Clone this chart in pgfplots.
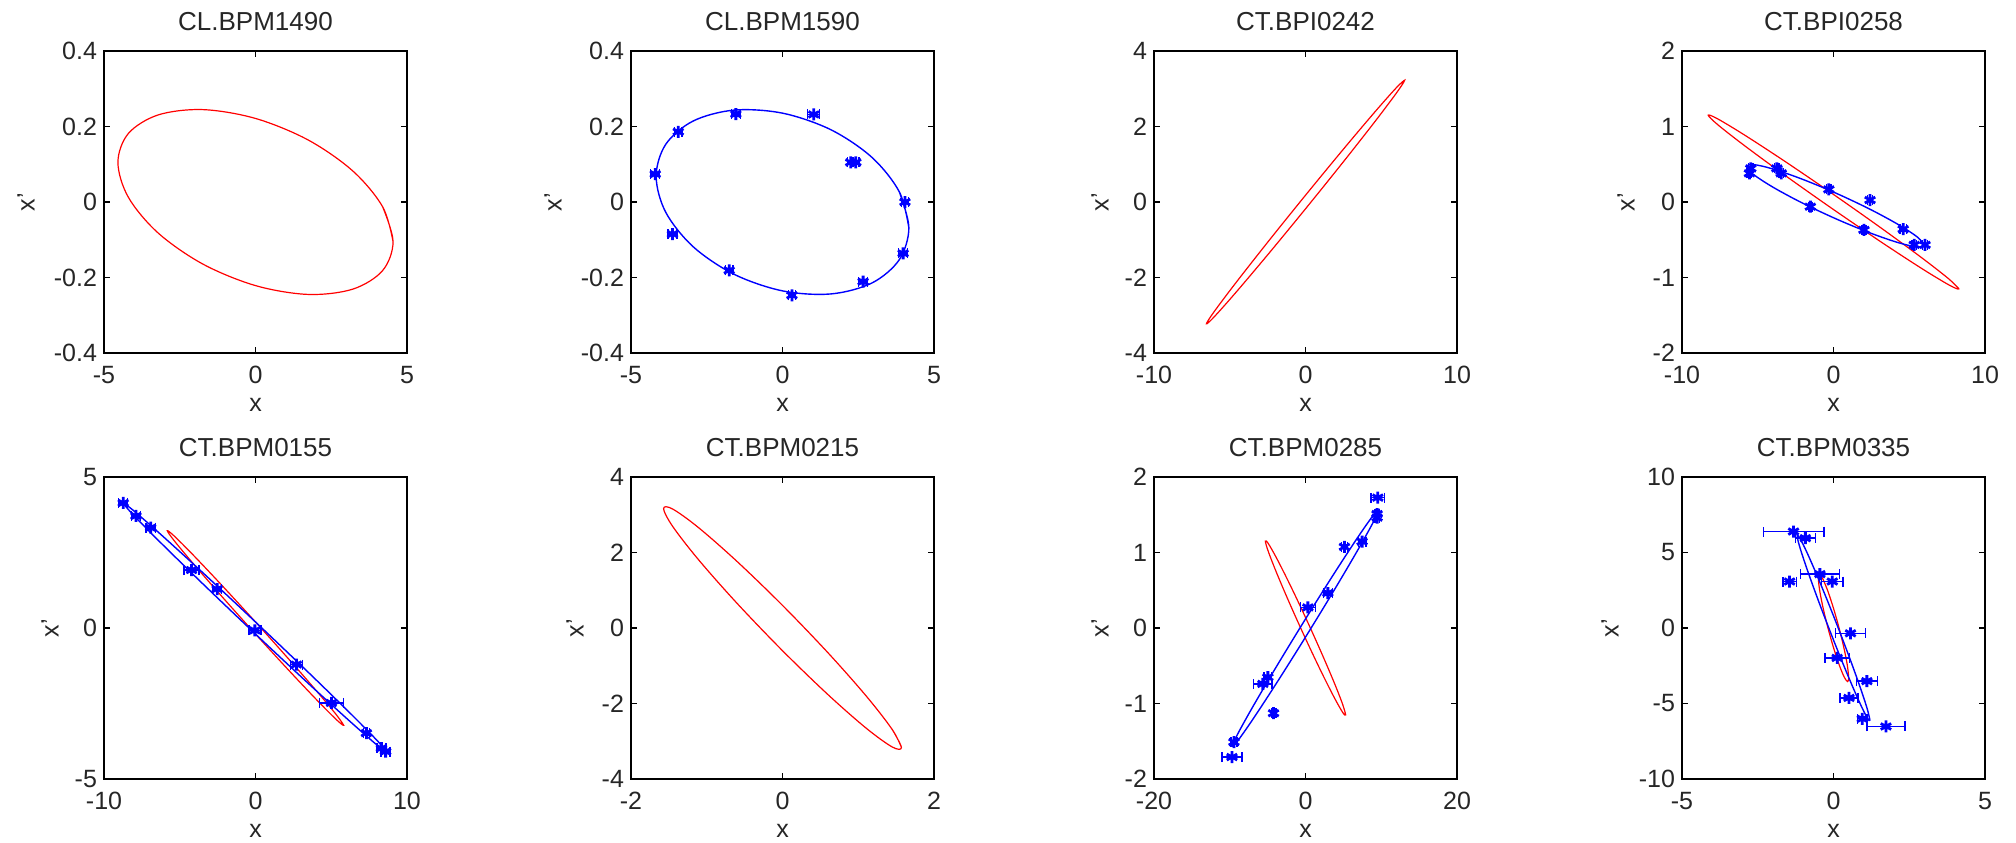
\documentclass[border=0pt]{standalone}
\usepackage{pgfplots}
\pgfplotsset{compat=1.18}
\usepackage{fontspec}
\setmainfont{Liberation Sans}
\definecolor{mblue}{rgb}{0,0,1}
\definecolor{mred}{rgb}{1,0,0}
\pgfplotsset{
  bpm/.style={
    scale only axis, width=151.5pt, height=151pt,
    axis line style={line width=0.7pt, black},
    tick style={line width=0.6pt, black},
    tick align=inside, major tick length=3pt,
    every tick label/.append style={font=\fontsize{12.5}{13}\selectfont, text=black!85},
    xticklabel style={yshift=-3pt},
    title style={font=\fontsize{13}{14}\selectfont, text=black!85, at={(0.5,1)}, anchor=base, yshift=4.5pt},
    xlabel={x}, ylabel={x'},
    xlabel style={font=\fontsize{12.5}{13}\selectfont, text=black!85, at={(0.5,0)}, anchor=base, yshift=-29pt},
    ylabel style={font=\fontsize{12.5}{13}\selectfont, text=black!85, at={(0,0.5)}, anchor=center},
    clip=false,
  },
  redell/.style={mred, line width=0.6pt, smooth, tension=0.55, mark=none},
  blueell/.style={mblue, line width=0.7pt, smooth, tension=0.55, mark=none},
  bluepts/.style={mblue, only marks, mark=asterisk, mark size=3pt, mark options={line width=1.4pt},
    error bars/.cd, x dir=both, x explicit,
    error bar style={line width=0.7pt, mblue},
    error mark options={rotate=90, mblue, mark size=2.5pt, line width=0.7pt}},
}
\begin{document}
\begin{tikzpicture}
% ---------- Row 1 ----------
\begin{axis}[bpm, at={(52pt,-176.5pt)}, anchor=south west,
  title={CL.BPM1490},
  xmin=-5, xmax=5, ymin=-0.4, ymax=0.4,
  xtick={-5,0,5}, xticklabels={-5,0,5},
  ytick={-0.4,-0.2,0,0.2,0.4}, yticklabels={-0.4,-0.2,0,0.2,0.4},
  ylabel style={yshift=39pt}]
\addplot[redell] coordinates {(4.54,-0.105) (4.194,-0.0123) (3.210,0.0823) (1.737,0.1644) (0,0.2214) (-1.737,0.2448) (-3.210,0.2308) (-4.194,0.1817) (-4.54,0.105) (-4.194,0.0123) (-3.210,-0.0823) (-1.737,-0.1644) (0,-0.2214) (1.737,-0.2448) (3.210,-0.2308) (4.194,-0.1817) (4.54,-0.105) (4.194,-0.0123)};
\end{axis}

\begin{axis}[bpm, at={(315.5pt,-176.5pt)}, anchor=south west,
  title={CL.BPM1590},
  xmin=-5, xmax=5, ymin=-0.4, ymax=0.4,
  xtick={-5,0,5}, xticklabels={-5,0,5},
  ytick={-0.4,-0.2,0,0.2,0.4}, yticklabels={-0.4,-0.2,0,0.2,0.4},
  ylabel style={yshift=39pt}]
\addplot[blueell] coordinates {(4.17,-0.068) (3.853,0.0273) (2.949,0.1184) (1.596,0.1915) (0,0.2354) (-1.596,0.2435) (-2.949,0.2146) (-3.853,0.1529) (-4.17,0.068) (-3.853,-0.0273) (-2.949,-0.1184) (-1.596,-0.1915) (0,-0.2354) (1.596,-0.2435) (2.949,-0.2146) (3.853,-0.1529) (4.17,-0.068) (3.853,0.0273)};
\addplot[bluepts] table[x index=0, y index=1, x error index=2] {
-1.54 0.233 0.15
1.03 0.232 0.2
-3.44 0.186 0.12
2.25 0.105 0.1
2.42 0.105 0.1
-4.20 0.074 0.15
4.04 0.0 0.12
-3.63 -0.085 0.15
3.98 -0.136 0.15
-1.76 -0.181 0.12
2.66 -0.211 0.15
0.31 -0.247 0.12
};
\end{axis}

\begin{axis}[bpm, at={(577pt,-176.5pt)}, anchor=south west,
  title={CT.BPI0242},
  xmin=-10, xmax=10, ymin=-4, ymax=4,
  xtick={-10,0,10}, xticklabels={-10,0,10},
  ytick={-4,-2,0,2,4}, yticklabels={-4,-2,0,2,4},
  ylabel style={yshift=27pt}]
\addplot[redell] coordinates {(6.54,3.225) (6.042,3.048) (4.624,2.408) (2.503,1.401) (0,0.18) (-2.503,-1.068) (-4.624,-2.153) (-6.042,-2.911) (-6.54,-3.225) (-6.042,-3.048) (-4.624,-2.408) (-2.503,-1.401) (0,-0.18) (2.503,1.068) (4.624,2.153) (6.042,2.911) (6.54,3.225) (6.042,3.048)};
\end{axis}

\begin{axis}[bpm, at={(841pt,-176.5pt)}, anchor=south west,
  title={CT.BPI0258},
  xmin=-10, xmax=10, ymin=-2, ymax=2,
  xtick={-10,0,10}, xticklabels={-10,0,10},
  ytick={-2,-1,0,1,2}, yticklabels={-2,-1,0,1,2},
  ylabel style={yshift=28pt}]
\addplot[redell] coordinates {(8.27,-1.15) (7.641,-1.024) (5.848,-0.7425) (3.165,-0.3477) (0,0.10) (-3.165,0.5325) (-5.848,0.8839) (-7.641,1.1008) (-8.27,1.15) (-7.641,1.024) (-5.848,0.7425) (-3.165,0.3477) (0,-0.10) (3.165,-0.5325) (5.848,-0.8839) (7.641,-1.1008) (8.27,-1.15) (7.641,-1.024)};
\addplot[blueell] coordinates {(5.99,-0.57) (5.54,-0.465) (4.27,-0.298) (2.37,-0.092) (0.13,0.12) (-2.11,0.306) (-4.01,0.438) (-5.28,0.496) (-5.73,0.47) (-5.28,0.365) (-4.01,0.198) (-2.11,-0.008) (0.13,-0.22) (2.37,-0.406) (4.27,-0.538) (5.54,-0.595) (5.99,-0.57) (5.54,-0.465)};
\addplot[bluepts] table[x index=0, y index=1, x error index=2] {
-5.55 0.38 0.15
-5.46 0.445 0.15
-3.74 0.445 0.15
-3.45 0.38 0.15
-0.31 0.167 0.15
2.41 0.026 0.15
-1.53 -0.062 0.12
2.01 -0.37 0.12
4.60 -0.36 0.2
5.33 -0.568 0.15
6.04 -0.568 0.15
};
\end{axis}

% ---------- Row 2 ----------
\begin{axis}[bpm, at={(52pt,-389.5pt)}, anchor=south west,
  title={CT.BPM0155},
  xmin=-10, xmax=10, ymin=-5, ymax=5,
  xtick={-10,0,10}, xticklabels={-10,0,10},
  ytick={-5,0,5}, yticklabels={-5,0,5},
  ylabel style={yshift=27pt}]
\addplot[redell] coordinates {(5.82,-3.22) (5.377,-2.898) (4.115,-2.135) (2.227,-1.048) (0,0.2) (-2.227,1.417) (-4.115,2.418) (-5.377,3.051) (-5.82,3.22) (-5.377,2.898) (-4.115,2.135) (-2.227,1.048) (0,-0.2) (2.227,-1.417) (4.115,-2.418) (5.377,-3.051) (5.82,-3.22) (5.377,-2.898)};
\addplot[blueell] coordinates {(8.7,-4.12) (8.038,-3.730) (6.152,-2.772) (3.329,-1.392) (0,0.2) (-3.329,1.762) (-6.152,3.054) (-8.038,3.883) (-8.7,4.12) (-8.038,3.730) (-6.152,2.772) (-3.329,1.392) (0,-0.2) (3.329,-1.762) (6.152,-3.054) (8.038,-3.883) (8.7,-4.12) (8.038,-3.730)};
\addplot[bluepts] table[x index=0, y index=1, x error index=2] {
-8.73 4.14 0.3
-7.89 3.71 0.3
-6.92 3.32 0.3
-4.22 1.92 0.5
-2.53 1.29 0.3
-0.04 -0.08 0.4
2.70 -1.21 0.4
5.01 -2.48 0.8
7.32 -3.48 0.2
8.31 -3.98 0.3
8.59 -4.09 0.3
};
\end{axis}

\begin{axis}[bpm, at={(315.5pt,-389.5pt)}, anchor=south west,
  title={CT.BPM0215},
  xmin=-2, xmax=2, ymin=-4, ymax=4,
  xtick={-2,0,2}, xticklabels={-2,0,2},
  ytick={-4,-2,0,2,4}, yticklabels={-4,-2,0,2,4},
  ylabel style={yshift=28pt}]
\addplot[redell] coordinates {(1.57,-3.164) (1.4505,-2.694) (1.110,-1.813) (0.6008,-0.6565) (0,0.6) (-0.6008,1.765) (-1.110,2.662) (-1.4505,3.153) (-1.57,3.164) (-1.4505,2.694) (-1.110,1.813) (-0.6008,0.6565) (0,-0.6) (0.6008,-1.765) (1.110,-2.662) (1.4505,-3.153) (1.57,-3.164) (1.4505,-2.694)};
\end{axis}

\begin{axis}[bpm, at={(577pt,-389.5pt)}, anchor=south west,
  title={CT.BPM0285},
  xmin=-20, xmax=20, ymin=-2, ymax=2,
  xtick={-20,0,20}, xticklabels={-20,0,20},
  ytick={-2,-1,0,1,2}, yticklabels={-2,-1,0,1,2},
  ylabel style={yshift=27pt}]
\addplot[redell] coordinates {(5.3,-1.15) (4.897,-1.009) (3.748,-0.7142) (2.028,-0.3108) (0,0.14) (-2.028,0.5694) (-3.748,0.9122) (-4.897,1.1161) (-5.3,1.15) (-4.897,1.009) (-3.748,0.7142) (-2.028,0.3108) (0,-0.14) (2.028,-0.5694) (3.748,-0.9122) (4.897,-1.1161) (5.3,-1.15) (4.897,-1.009)};
\addplot[blueell] coordinates {(9.67,1.565) (8.934,1.492) (6.838,1.192) (3.701,0.7098) (0,0.12) (-3.701,-0.488) (-6.838,-1.022) (-8.934,-1.400) (-9.67,-1.565) (-8.934,-1.492) (-6.838,-1.192) (-3.701,-0.7098) (0,-0.12) (3.701,0.488) (6.838,1.022) (8.934,1.400) (9.67,1.565) (8.934,1.492)};
\addplot[bluepts] table[x index=0, y index=1, x error index=2] {
9.54 1.727 0.9
9.45 1.51 0.3
9.45 1.463 0.3
7.47 1.145 0.5
5.14 1.075 0.4
2.95 0.463 0.6
0.31 0.273 1.0
-4.97 -0.652 0.5
-5.63 -0.74 1.2
-4.22 -1.128 0.3
-9.45 -1.511 0.4
-9.71 -1.709 1.3
};
\end{axis}

\begin{axis}[bpm, at={(841pt,-389.5pt)}, anchor=south west,
  title={CT.BPM0335},
  xmin=-5, xmax=5, ymin=-10, ymax=10,
  xtick={-5,0,5}, xticklabels={-5,0,5},
  ytick={-10,-5,0,5,10}, yticklabels={-10,-5,0,5,10},
  ylabel style={yshift=36pt}]
\addplot[redell] coordinates {(0.5,-3.3) (0.462,-2.551) (0.3536,-1.414) (0.1914,-0.062) (0,1.3) (-0.1914,2.464) (-0.3536,3.252) (-0.462,3.546) (-0.5,3.3) (-0.462,2.551) (-0.3536,1.414) (-0.1914,0.062) (0,-1.3) (0.1914,-2.464) (0.3536,-3.252) (0.462,-3.546) (0.5,-3.3) (0.462,-2.551)};
\addplot[blueell] coordinates {(1.2,-6.1) (1.109,-5.329) (0.8485,-3.748) (0.4592,-1.595) (0,0.8) (-0.4592,3.073) (-0.8485,4.879) (-1.109,5.942) (-1.2,6.1) (-1.109,5.329) (-0.8485,3.748) (-0.4592,1.595) (0,-0.8) (0.4592,-3.073) (0.8485,-4.879) (1.109,-5.942) (1.2,-6.1) (1.109,-5.329)};
\addplot[bluepts] table[x index=0, y index=1, x error index=2] {
-1.32 6.39 1.0
-0.93 5.95 0.33
-0.45 3.57 0.65
-0.04 3.08 0.35
-1.45 3.08 0.22
0.56 -0.35 0.5
0.12 -1.98 0.4
1.10 -3.52 0.35
0.51 -4.63 0.3
0.95 -6.01 0.15
1.73 -6.52 0.63
};
\end{axis}
\pgfresetboundingbox
\path[use as bounding box] (0pt,0pt) rectangle (1008pt,-421pt);
\end{tikzpicture}
\end{document}
